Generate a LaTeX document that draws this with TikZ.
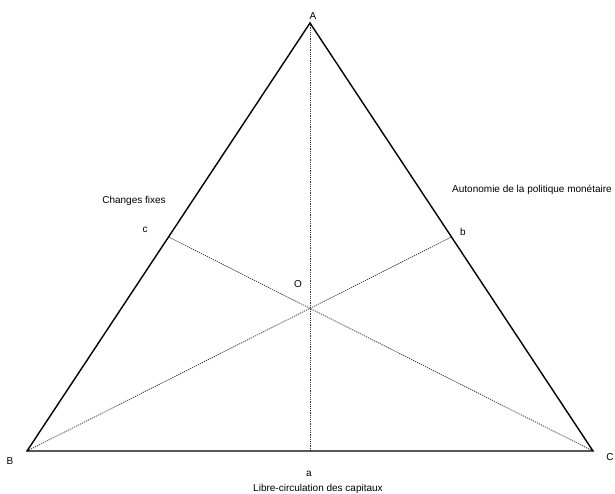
\documentclass[tikz,border=0pt]{standalone}
\usepackage{fontspec}
\setmainfont{Liberation Sans}
\begin{document}
\begin{tikzpicture}[x=1pt,y=-1pt,
  side/.style={line width=1.4pt,black},
  median/.style={line width=0.75pt,black!80,dash pattern=on 1.2pt off 1pt},
  lbl/.style={inner sep=0pt,font=\fontsize{10}{12}\selectfont}]
\useasboundingbox (0,0) rectangle (615,493);
\fill[white] (0,0) rectangle (615,493);
\coordinate (A) at (310,23);
\coordinate (B) at (27,451);
\coordinate (C) at (593,451);
\path (B) -- (C) coordinate[pos=0.5] (a);
\path (A) -- (B) coordinate[pos=0.5] (c);
\path (A) -- (C) coordinate[pos=0.5] (b);
\draw[median] (A) -- (a);
\draw[median] (B) -- (b);
\draw[median] (C) -- (c);
\draw[side,line join=miter] (A) -- (B) -- (C) -- cycle;
\node[lbl] (lA) at (313,16) {A};
\node[lbl] (lB) at (10,461) {B};
\node[lbl] (lC) at (610,457) {C};
\node[lbl] (la) at (309,474) {a};
\node[lbl] (lLibre) at (318,488.5) {Libre-circulation des capitaux};
\node[lbl] (lc) at (145,230) {c};
\node[lbl] (lChanges) at (134,201) {Changes fixes};
\node[lbl] (lb) at (463,232) {b};
\node[lbl] (lAuto) at (532,190) {Autonomie de la politique monétaire};
\node[lbl] (lO) at (298,284) {O};
\end{tikzpicture}
\end{document}
